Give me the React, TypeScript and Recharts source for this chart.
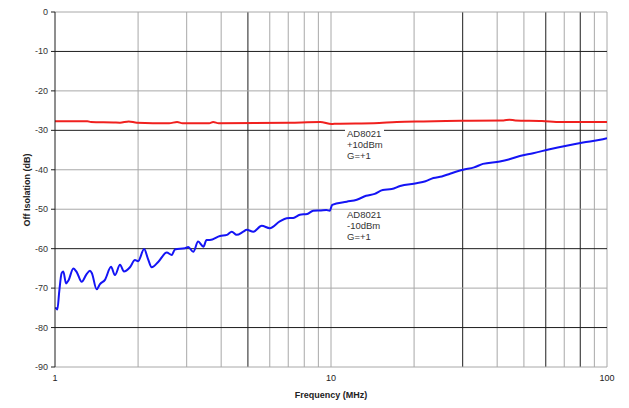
import React from "react";
import { LineChart, Line, XAxis, YAxis, ReferenceLine } from "recharts";

const blueFreq = [1.0, 1.008, 1.02, 1.036, 1.057, 1.072, 1.096, 1.12, 1.165, 1.2, 1.249, 1.3, 1.339, 1.36, 1.415, 1.455, 1.517, 1.596, 1.649, 1.72, 1.778, 1.869, 1.949, 2.0, 2.104, 2.17, 2.24, 2.37, 2.54, 2.65, 2.72, 2.96, 3.04, 3.17, 3.3, 3.45, 3.54, 3.64, 3.96, 4.2, 4.37, 4.55, 4.81, 4.95, 5.23, 5.61, 6.0, 6.52, 6.91, 7.3, 7.71, 8.2, 8.62, 9.2, 9.62, 9.9, 10.1, 11.4, 12.4, 13.4, 14.4, 15.4, 16.6, 17.8, 20.4, 22.0, 23.5, 25.2, 27.0, 30.1, 33.0, 35.5, 40.9, 44.0, 48.3, 54, 62, 71.3, 81.9, 94.4, 100];
const blueDb = [-75.0, -75.1, -75.4, -70.9, -66.2, -65.8, -68.8, -68.0, -65.0, -66.0, -68.4, -66.5, -65.6, -66.2, -70.3, -69.0, -67.9, -64.6, -66.7, -64.1, -65.8, -64.7, -62.9, -63.2, -60.1, -62.5, -64.7, -63.3, -61.0, -61.6, -60.2, -59.9, -59.6, -60.8, -58.2, -59.5, -57.8, -57.8, -56.8, -56.5, -55.7, -56.5, -55.7, -55.2, -55.7, -54.2, -54.8, -53.1, -52.3, -52.2, -51.4, -51.2, -50.4, -50.3, -50.2, -50.4, -48.9, -48.1, -47.6, -46.6, -46.1, -45.1, -44.9, -44.1, -43.4, -42.9, -42.1, -41.7, -41.0, -40.0, -39.4, -38.5, -37.9, -37.4, -36.5, -35.8, -34.8, -33.9, -33.1, -32.4, -32.0];

const redFreq = [1.0, 1.31, 1.35, 1.63, 1.72, 1.85, 1.98, 2.59, 2.77, 2.9, 3.62, 3.74, 3.92, 7.1, 9.14, 10.05, 10.5, 14.3, 17.3, 21.6, 29.6, 42.2, 44.3, 46.5, 58.1, 68.2, 100];
const redDb = [-27.7, -27.7, -27.9, -28.0, -28.05, -27.75, -28.05, -28.2, -27.9, -28.2, -28.2, -27.9, -28.2, -28.05, -27.9, -28.4, -28.3, -28.2, -27.9, -27.75, -27.6, -27.5, -27.3, -27.5, -27.65, -27.9, -27.9];

const xTicks = [1, 10, 100];
const yTicks = [0, -10, -20, -30, -40, -50, -60, -70, -80, -90];
const xGrid = [2, 3, 4, 5, 6, 7, 8, 9, 10, 20, 30, 40, 50, 60, 70, 80, 90, 100];
const xGridDark = [5, 30, 60, 80];
const yGrid = [0, -10, -20, -30, -40, -50, -60, -70, -80];
const yGridDark = [-10, -30, -60, -80];

const blueData = blueFreq.map((f, i) => ({ f, v: blueDb[i] }));
const redData = redFreq.map((f, i) => ({ f, v: redDb[i] }));

const GRAY = "#a8a8a8";
const DARK = "#1e1e1e";
const FONT = "'Liberation Sans', Arial, sans-serif";

const XTick = (props: any) => {
  const { x, y, payload } = props;
  return (
    <text x={x} y={y} dy={6} textAnchor="middle" fontSize={9} fontFamily={FONT} fill="#222">
      {payload.value}
    </text>
  );
};

const YTick = (props: any) => {
  const { x, y, payload } = props;
  return (
    <text x={x} y={y} dy={3} textAnchor="end" fontSize={9} fontFamily={FONT} fill="#333">
      {payload.value}
    </text>
  );
};

const noteStyle: React.CSSProperties = {
  position: "absolute",
  fontFamily: FONT,
  fontSize: 9.5,
  lineHeight: "11px",
  color: "#333",
  whiteSpace: "pre",
};

export default function App() {
  return (
    <div style={{ position: "absolute", left: 0, top: 0, width: 629, height: 408, background: "#fff" }}>
      <LineChart width={629} height={408} margin={{ top: 12, right: 22, bottom: 11, left: 0 }}>
        <XAxis
          type="number"
          dataKey="f"
          scale="log"
          domain={[1, 100]}
          ticks={xTicks}
          height={30}
          allowDataOverflow
          tickLine={false}
          axisLine={{ stroke: GRAY }}
          tick={<XTick />}
        />
        <YAxis
          type="number"
          domain={[-90, 0]}
          ticks={yTicks}
          width={55}
          tickSize={4}
          tickMargin={3}
          axisLine={{ stroke: DARK }}
          tickLine={{ stroke: DARK }}
          tick={<YTick />}
          allowDataOverflow
        />
        {xGrid.map((g) => (
          <ReferenceLine key={"x" + g} x={g} stroke={xGridDark.includes(g) ? DARK : GRAY} strokeWidth={1} />
        ))}
        {yGrid.map((g) => (
          <ReferenceLine key={"y" + g} y={g} stroke={yGridDark.includes(g) ? DARK : GRAY} strokeWidth={1} />
        ))}
        <Line data={redData} dataKey="v" stroke="#f0201e" strokeWidth={2} dot={false} isAnimationActive={false} type="monotone" />
        <Line data={blueData} dataKey="v" stroke="#1414f5" strokeWidth={2} dot={false} isAnimationActive={false} type="monotone" />
      </LineChart>
      <div style={{ ...noteStyle, left: 345, top: 128, width: 39, height: 37, background: "#fff", paddingLeft: 2, boxSizing: "border-box" }}>
        {"AD8021\n+10dBm\nG=+1"}
      </div>
      <div style={{ ...noteStyle, left: 345, top: 209, paddingLeft: 2 }}>
        {"AD8021\n-10dBm\nG=+1"}
      </div>
      <div
        style={{
          position: "absolute",
          left: 27,
          top: 190,
          transform: "translate(-50%, -50%) rotate(-90deg)",
          fontFamily: FONT,
          fontSize: 9,
          fontWeight: "bold",
          color: "#222",
          whiteSpace: "nowrap",
        }}
      >
        Off Isolation (dB)
      </div>
      <div
        style={{
          position: "absolute",
          left: 331,
          top: 395,
          transform: "translate(-50%, -50%)",
          fontFamily: FONT,
          fontSize: 9,
          fontWeight: "bold",
          color: "#222",
          whiteSpace: "nowrap",
        }}
      >
        Frequency (MHz)
      </div>
    </div>
  );
}
